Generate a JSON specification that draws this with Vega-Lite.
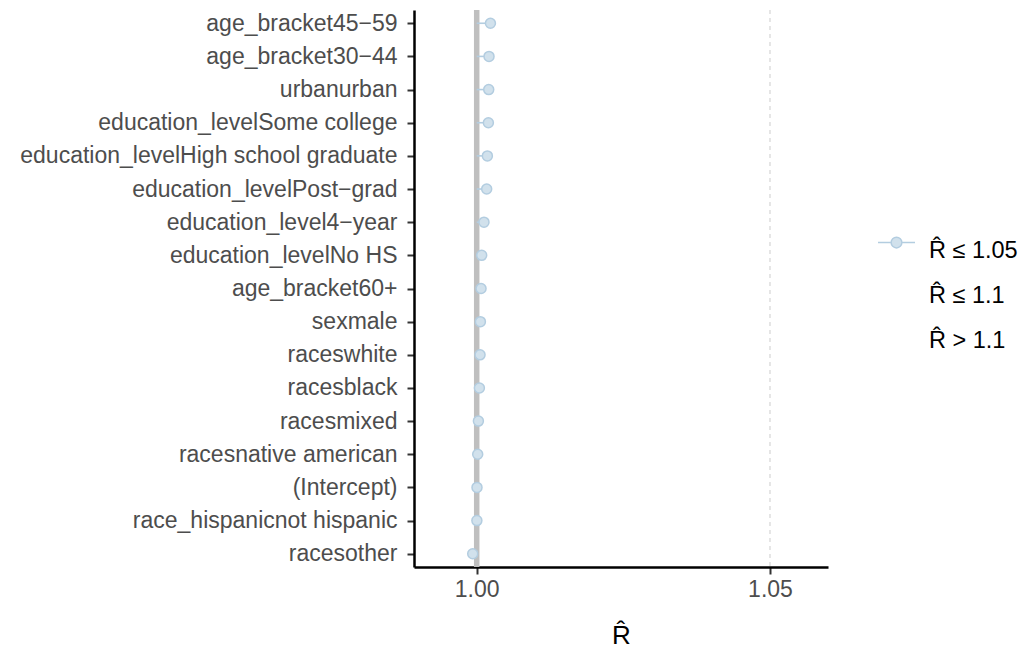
{
  "$schema": "https://vega.github.io/schema/vega-lite/v6.json",
  "autosize": "none",
  "width": 414,
  "height": 557,
  "padding": {"left": 414, "top": 10, "right": 198, "bottom": 82},
  "background": "white",
  "config": {
    "view": {"stroke": null},
    "font": "Liberation Sans",
    "axis": {"grid": false, "domainColor": "black", "domainWidth": 2.5, "tickColor": "#333333", "tickWidth": 2, "tickSize": 7, "labelColor": "#4d4d4d", "labelFont": "Liberation Sans", "labelFontSize": 23, "labelLimit": 0, "titleFont": "Liberation Sans", "titleColor": "black", "titleFontWeight": "normal"}
  },
  "data": {"values": [
    {"param": "age_bracket45−59", "rhat": 1.00234, "cat": "R̂ ≤ 1.05"},
    {"param": "age_bracket30−44", "rhat": 1.00210, "cat": "R̂ ≤ 1.05"},
    {"param": "urbanurban", "rhat": 1.00205, "cat": "R̂ ≤ 1.05"},
    {"param": "education_levelSome college", "rhat": 1.00199, "cat": "R̂ ≤ 1.05"},
    {"param": "education_levelHigh school graduate", "rhat": 1.00182, "cat": "R̂ ≤ 1.05"},
    {"param": "education_levelPost−grad", "rhat": 1.00170, "cat": "R̂ ≤ 1.05"},
    {"param": "education_level4−year", "rhat": 1.00124, "cat": "R̂ ≤ 1.05"},
    {"param": "education_levelNo HS", "rhat": 1.00085, "cat": "R̂ ≤ 1.05"},
    {"param": "age_bracket60+", "rhat": 1.00074, "cat": "R̂ ≤ 1.05"},
    {"param": "sexmale", "rhat": 1.00063, "cat": "R̂ ≤ 1.05"},
    {"param": "raceswhite", "rhat": 1.00057, "cat": "R̂ ≤ 1.05"},
    {"param": "racesblack", "rhat": 1.00046, "cat": "R̂ ≤ 1.05"},
    {"param": "racesmixed", "rhat": 1.00029, "cat": "R̂ ≤ 1.05"},
    {"param": "racesnative american", "rhat": 1.00017, "cat": "R̂ ≤ 1.05"},
    {"param": "(Intercept)", "rhat": 1.00005, "cat": "R̂ ≤ 1.05"},
    {"param": "race_hispanicnot hispanic", "rhat": 1.00003, "cat": "R̂ ≤ 1.05"},
    {"param": "racesother", "rhat": 0.99932, "cat": "R̂ ≤ 1.05"}
  ]},
  "layer": [
    {
      "data": {"values": [{"ref": 1}]},
      "mark": {"type": "rule", "color": "#bfbfbf", "strokeWidth": 5.5},
      "encoding": {"x": {"field": "ref", "type": "quantitative", "scale": {"domain": [0.98931, 1.05989], "nice": false, "zero": false}}}
    },
    {
      "data": {"values": [{"ref": 1.05}]},
      "mark": {"type": "rule", "color": "#cccccc", "strokeWidth": 1, "strokeDash": [4, 4]},
      "encoding": {"x": {"field": "ref", "type": "quantitative"}}
    },
    {
      "mark": {"type": "rule", "color": "#b3cde0", "strokeWidth": 1.6},
      "encoding": {
        "y": {"field": "param", "type": "nominal", "sort": null},
        "x": {"field": "rhat", "type": "quantitative"},
        "x2": {"datum": 1}
      }
    },
    {
      "mark": {"type": "point", "filled": false, "fillOpacity": 1, "strokeWidth": 1.5, "size": 100},
      "encoding": {
        "y": {"field": "param", "type": "nominal", "sort": null, "scale": {"type": "point", "padding": 0.4},
          "axis": {"title": null, "labelPadding": 10, "tickSize": 7}},
        "x": {"field": "rhat", "type": "quantitative",
          "axis": {"title": "R̂", "titleFontSize": 26, "titlePadding": 21, "values": [1.0, 1.05], "format": ".2f", "labelPadding": 4, "labelFlush": false}},
        "fill": {"field": "cat", "type": "nominal",
          "scale": {"domain": ["R̂ ≤ 1.05", "R̂ ≤ 1.1", "R̂ > 1.1"], "range": ["#d1e1ec", "rgba(0,0,0,0)", "rgba(0,0,0,0)"]},
          "legend": {
            "orient": "none", "legendX": 463, "legendY": 221, "title": null, "padding": 0,
            "symbolType": "M-1,-0.43H-0.29M0.29,-0.43H1M0.29,-0.43A0.29,0.29,0,1,1,-0.29,-0.43A0.29,0.29,0,1,1,0.29,-0.43Z",
            "symbolSize": 1369, "symbolStrokeWidth": 1.5,
            "labelFont": "Liberation Sans", "labelFontSize": 23.5, "labelColor": "black", "labelOffset": 13, "rowPadding": 14
          }
        },
        "stroke": {"field": "cat", "type": "nominal",
          "scale": {"domain": ["R̂ ≤ 1.05", "R̂ ≤ 1.1", "R̂ > 1.1"], "range": ["#b3cde0", "rgba(0,0,0,0)", "rgba(0,0,0,0)"]},
          "legend": {
            "orient": "none", "legendX": 463, "legendY": 221, "title": null, "padding": 0,
            "symbolType": "M-1,-0.43H-0.29M0.29,-0.43H1M0.29,-0.43A0.29,0.29,0,1,1,-0.29,-0.43A0.29,0.29,0,1,1,0.29,-0.43Z",
            "symbolSize": 1369, "symbolStrokeWidth": 1.5,
            "labelFont": "Liberation Sans", "labelFontSize": 23.5, "labelColor": "black", "labelOffset": 13, "rowPadding": 14
          }
        }
      }
    }
  ]
}
